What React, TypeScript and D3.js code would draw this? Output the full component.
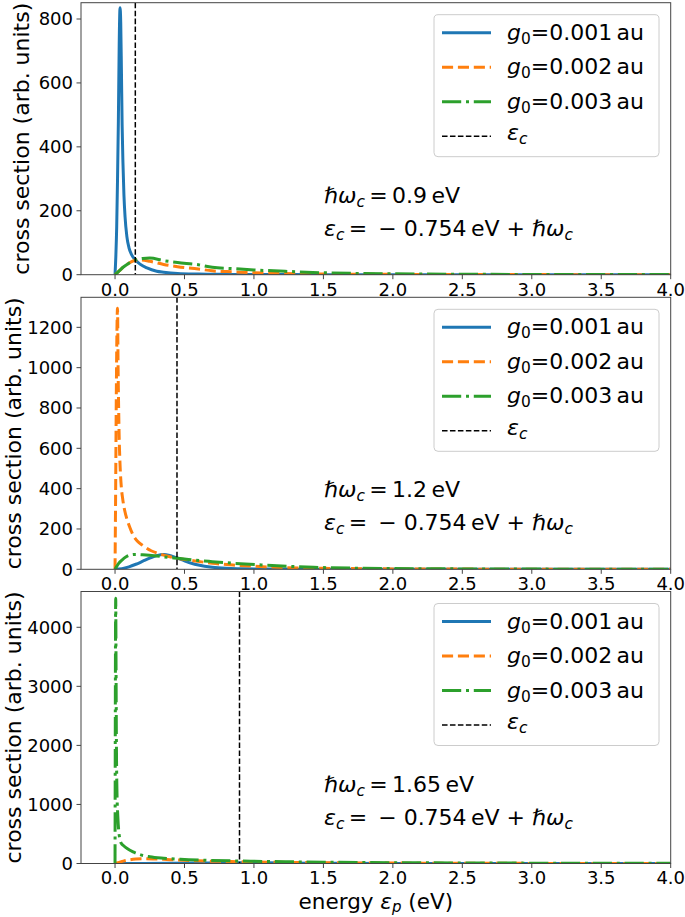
import React from "react";
import * as d3 from "d3";

const W = 685;
const H = 917;
const FONT = "'DejaVu Sans', sans-serif";

// ---------- axes / ticks ----------
const xDomain = [-0.245, 4.0];
const xTicks = [0, 0.5, 1, 1.5, 2, 2.5, 3, 3.5, 4];
const xTickLabels = ["0.0", "0.5", "1.0", "1.5", "2.0", "2.5", "3.0", "3.5", "4.0"];

const p1YTicks = [0, 200, 400, 600, 800];
const p2YTicks = [0, 200, 400, 600, 800, 1000, 1200];
const p3YTicks = [0, 1000, 2000, 3000, 4000];
const yMaxes = [851, 1349, 4606];

const hbarOmegaLabels = ["0.9", "1.2", "1.65"];
const epsilonC = [0.146, 0.446, 0.896];
const couplingLabels = ["0.001", "0.002", "0.003"];

// ---------- panel 1 (ħω_c = 0.9 eV) ----------
const p1BlueX = [0, 0.006, 0.012, 0.018, 0.024, 0.03, 0.036, 0.041, 0.046, 0.051, 0.057, 0.064, 0.072, 0.085, 0.1, 0.12, 0.146, 0.18, 0.23, 0.3, 0.35, 0.45, 0.6, 0.8, 1.0, 1.5, 2.0, 3.0, 4.0];
const p1BlueY = [0, 60, 150, 300, 480, 720, 835, 790, 640, 470, 350, 250, 182, 120, 85, 62, 47, 33, 21, 11, 8, 4, 2, 1, 0.5, 0.2, 0.1, 0, 0];
const p1OrangeX = [0, 0.03, 0.06, 0.1, 0.146, 0.18, 0.25, 0.35, 0.45, 0.6, 0.7, 0.85, 1.0, 1.2, 1.5, 2.0, 2.5, 3.0, 4.0];
const p1OrangeY = [0, 12, 24, 36, 45, 46, 42, 32, 25, 18, 12, 9, 6, 4, 2, 1, 0.5, 0.3, 0.1];
const p1GreenX = [0, 0.03, 0.06, 0.1, 0.146, 0.2, 0.25, 0.35, 0.45, 0.6, 0.7, 0.85, 1.0, 1.26, 1.5, 2.0, 2.5, 3.0, 4.0];
const p1GreenY = [0, 12, 24, 36, 46, 51, 52, 44, 38, 31, 23, 19, 15, 10, 6, 3, 1.5, 0.8, 0.3];

// ---------- panel 2 (ħω_c = 1.2 eV) ----------
const p2BlueX = [0, 0.05, 0.1, 0.15, 0.2, 0.25, 0.3, 0.35, 0.4, 0.446, 0.5, 0.55, 0.6, 0.7, 0.8, 0.9, 1.0, 1.2, 1.5, 2.0, 3.0, 4.0];
const p2BlueY = [0, 3, 12, 25, 40, 55, 68, 74, 67, 56, 42, 30, 21, 10, 5, 3, 2, 1, 0.5, 0.2, 0, 0];
const p2OrangeX = [0, 0.004, 0.009, 0.014, 0.018, 0.022, 0.026, 0.03, 0.036, 0.045, 0.055, 0.07, 0.085, 0.1, 0.13, 0.16, 0.2, 0.26, 0.32, 0.38, 0.446, 0.55, 0.7, 0.85, 1.0, 1.2, 1.5, 2.0, 2.5, 3.0, 4.0];
const p2OrangeY = [0, 350, 850, 1200, 1295, 1000, 800, 650, 520, 410, 350, 290, 250, 220, 170, 140, 118, 92, 77, 65, 55, 44, 30, 21, 15, 9, 5, 2, 1, 0.5, 0.2];
const p2GreenX = [0, 0.01, 0.025, 0.05, 0.08, 0.11, 0.15, 0.2, 0.3, 0.4, 0.446, 0.55, 0.7, 0.85, 1.07, 1.25, 1.43, 1.7, 2.0, 2.5, 3.0, 4.0];
const p2GreenY = [0, 12, 28, 46, 62, 71, 74, 72, 66, 58, 55, 47, 38, 30, 21, 15, 10, 6, 4, 2, 1, 0.4];

// ---------- panel 3 (ħω_c = 1.65 eV) ----------
const p3BlueX = [0, 0.2, 0.4, 0.6, 0.75, 0.9, 1.0, 1.1, 1.25, 1.4, 1.6, 2.0, 2.5, 4.0];
const p3BlueY = [0, 1, 3, 7, 11, 14, 14, 12, 8, 5, 3, 1, 0.3, 0];
const p3OrangeX = [0, 0.03, 0.06, 0.1, 0.15, 0.2, 0.27, 0.35, 0.45, 0.6, 0.75, 0.9, 1.1, 1.3, 1.6, 2.0, 2.5, 3.0, 4.0];
const p3OrangeY = [0, 20, 40, 60, 75, 80, 78, 70, 58, 45, 36, 30, 23, 18, 12, 7, 4, 2, 1];
const p3GreenX = [0, 0.002, 0.004, 0.005, 0.007, 0.01, 0.014, 0.02, 0.03, 0.045, 0.06, 0.09, 0.13, 0.18, 0.25, 0.35, 0.47, 0.65, 0.85, 1.0, 1.3, 1.6, 2.0, 2.5, 3.0, 4.0];
const p3GreenY = [0, 2500, 4300, 4490, 3500, 2000, 1200, 800, 480, 340, 305, 250, 197, 150, 115, 90, 72, 55, 44, 38, 28, 20, 14, 9, 6, 3];

const BLUE = "#1f77b4";
const ORANGE = "#ff7f0e";
const GREEN = "#2ca02c";
const DASH_O = "11.1 4.8";
const DASH_G = "19.2 4.8 3 4.8";
const DASH_K = "5.55 2.4";

const panelsData = [
  { ticks: p1YTicks, series: [[p1BlueX, p1BlueY], [p1OrangeX, p1OrangeY], [p1GreenX, p1GreenY]] },
  { ticks: p2YTicks, series: [[p2BlueX, p2BlueY], [p2OrangeX, p2OrangeY], [p2GreenX, p2GreenY]] },
  { ticks: p3YTicks, series: [[p3BlueX, p3BlueY], [p3OrangeX, p3OrangeY], [p3GreenX, p3GreenY]] },
];
const seriesStyle = [
  { color: BLUE, dash: undefined },
  { color: ORANGE, dash: DASH_O },
  { color: GREEN, dash: DASH_G },
];

const LEFT = 81;
const RIGHT = 670.7;
const PANEL_H = 272;
const TOPS = [2.7, 297.3, 591.5];
const YLABEL_X = [29, 21, 21];

const x = d3.scaleLinear().domain(xDomain).range([LEFT, RIGHT]);

function Panel({ idx }: { idx: number }) {
  const top = TOPS[idx];
  const bottom = top + PANEL_H;
  const pd = panelsData[idx];
  const y = d3.scaleLinear().domain([0, yMaxes[idx]]).range([bottom, top]);
  const clipId = `clip${idx}`;
  const line = d3
    .line<[number, number]>()
    .x((d) => x(d[0]))
    .y((d) => y(d[1]))
    .curve(d3.curveMonotoneX);
  const legendRows = [30, 64.5, 99, 133.5];
  const fs = 22;
  const sub = 15.4;
  return (
    <g>
      <defs>
        <clipPath id={clipId}>
          <rect x={LEFT} y={top} width={RIGHT - LEFT} height={PANEL_H} />
        </clipPath>
      </defs>
      <g clipPath={`url(#${clipId})`}>
        {pd.series.map((s, i) => {
          const pts = (s[0] as number[]).map((xv, j) => [xv, (s[1] as number[])[j]] as [number, number]);
          return (
            <path
              key={i}
              d={line(pts) || ""}
              fill="none"
              stroke={seriesStyle[i].color}
              strokeWidth={3}
              strokeDasharray={seriesStyle[i].dash}
              strokeLinejoin="round"
            />
          );
        })}
        <line
          x1={x(epsilonC[idx])}
          x2={x(epsilonC[idx])}
          y1={top}
          y2={bottom}
          stroke="#000"
          strokeWidth={1.5}
          strokeDasharray={DASH_K}
        />
      </g>
      {/* spines */}
      <rect x={LEFT} y={top} width={RIGHT - LEFT} height={PANEL_H} fill="none" stroke="#444" strokeWidth={1} />
      {/* y ticks */}
      {pd.ticks.map((t) => (
        <g key={t}>
          <line x1={LEFT - 4.5} x2={LEFT} y1={y(t)} y2={y(t)} stroke="#444" strokeWidth={1} />
          <text x={LEFT - 8} y={y(t)} dy="0.36em" textAnchor="end" fontSize={18} fontFamily={FONT} fill="#000">
            {t}
          </text>
        </g>
      ))}
      {/* x ticks */}
      {xTicks.map((t, i) => (
        <g key={t}>
          <line x1={x(t)} x2={x(t)} y1={bottom} y2={bottom + 4.5} stroke="#444" strokeWidth={1} />
          <text x={x(t)} y={bottom + 20.8} textAnchor="middle" fontSize={18} fontFamily={FONT} fill="#000">
            {xTickLabels[i]}
          </text>
        </g>
      ))}
      {/* y label */}
      <text
        transform={`translate(${YLABEL_X[idx]},${(top + bottom) / 2}) rotate(-90)`}
        textAnchor="middle"
        fontSize={fs}
        fontFamily={FONT}
        fill="#000"
      >
        cross section (arb. units)
      </text>
      {/* legend */}
      <rect x={434} y={top + 12} width={225} height={142} rx={4} fill="#fff" fillOpacity={0.8} stroke="#cccccc" strokeWidth={1} />
      {seriesStyle.map((s, i) => (
        <g key={i}>
          <line x1={442} x2={491} y1={top + legendRows[i]} y2={top + legendRows[i]} stroke={s.color} strokeWidth={3} strokeDasharray={s.dash} />
          <text x={507} y={top + legendRows[i] + 7} fontSize={fs} fontFamily={FONT} fill="#000">
            <tspan fontStyle="italic">g</tspan>
            <tspan fontSize={sub} dy={4}>0</tspan>
            <tspan dy={-4}>{"=" + couplingLabels[i] + "\u2009au"}</tspan>
          </text>
        </g>
      ))}
      <line x1={442} x2={491} y1={top + legendRows[3]} y2={top + legendRows[3]} stroke="#000" strokeWidth={1.5} strokeDasharray={DASH_K} />
      <text x={507} y={top + legendRows[3] + 4} fontSize={fs} fontFamily={FONT} fill="#000">
        <tspan fontStyle="italic">ε</tspan>
        <tspan fontStyle="italic" fontSize={sub} dy={4}>c</tspan>
      </text>
      {/* annotation */}
      <text x={324} y={top + 200} fontSize={fs} fontFamily={FONT} fill="#000">
        <tspan fontStyle="italic">ℏω</tspan>
        <tspan fontStyle="italic" fontSize={sub} dy={4}>c</tspan>
        <tspan dy={-4}>{"\u2009=\u2009" + hbarOmegaLabels[idx] + "\u2009eV"}</tspan>
      </text>
      <text x={324} y={top + 233} fontSize={fs} fontFamily={FONT} fill="#000">
        <tspan fontStyle="italic">ε</tspan>
        <tspan fontStyle="italic" fontSize={sub} dy={4}>c</tspan>
        <tspan dy={-4}>{"\u2009=\u2002\u2212 0.754\u2009eV + "}</tspan>
        <tspan fontStyle="italic">ℏω</tspan>
        <tspan fontStyle="italic" fontSize={sub} dy={4}>c</tspan>
      </text>
    </g>
  );
}

export default function App() {
  return (
    <div style={{ position: "absolute", left: 0, top: 0, width: W, height: H, background: "#fff" }}>
      <svg width={W} height={H} viewBox={`0 0 ${W} ${H}`} style={{ display: "block" }}>
        <rect x={0} y={0} width={W} height={H} fill="#fff" />
        {[0, 1, 2].map((i) => (
          <Panel key={i} idx={i} />
        ))}
        <text x={(LEFT + RIGHT) / 2} y={909} textAnchor="middle" fontSize={21.5} fontFamily={FONT} fill="#000">
          energy <tspan fontStyle="italic">ε</tspan>
          <tspan fontStyle="italic" fontSize={15} dy={3}>p</tspan>
          <tspan dy={-3}> (eV)</tspan>
        </text>
      </svg>
    </div>
  );
}
